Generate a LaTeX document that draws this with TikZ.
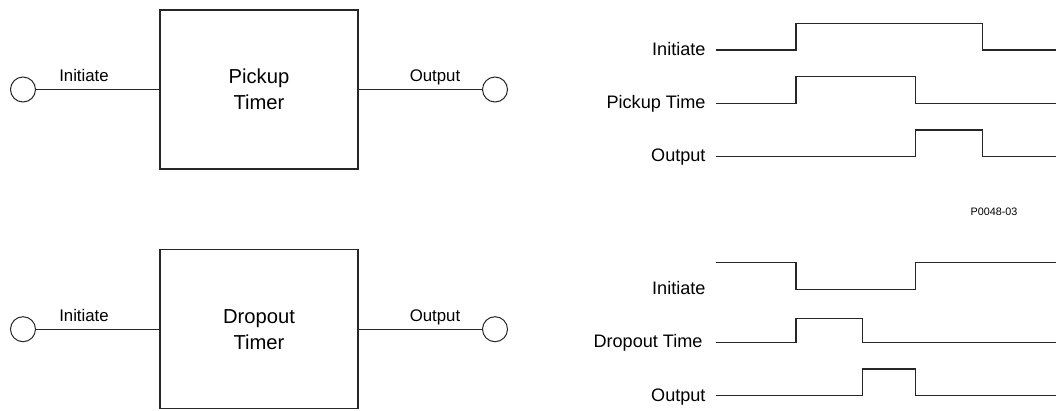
\documentclass[tikz,border=0pt]{standalone}
\usepackage{fontspec}
\setmainfont{Liberation Sans}
\begin{document}
\begin{tikzpicture}[x=1pt,y=-1pt,
			timer/.style={rectangle, draw=black!85, line width=1.4pt, minimum width=198pt, minimum height=159pt, align=center, font=\fontsize{20.2}{26}\selectfont, inner sep=0pt},
			term/.style={circle, draw=black!85, line width=1pt, minimum size=25pt, inner sep=0pt},
			wire/.style={draw=black!85, line width=1.4pt},
			wave/.style={draw=black!85, line width=1.4pt},
			lbl/.style={font=\fontsize{16.8}{20}\selectfont, anchor=base, inner sep=0pt},
			sig/.style={font=\fontsize{18.1}{22}\selectfont, anchor=base east, inner sep=0pt}]
			\useasboundingbox (0,0) rectangle (1056,410);
			%---------------- PICKUP TIMER ----------------
			\node[timer] (pickup) at (259,89.5) {Pickup\\Timer};
			\node[term] (inA) at (23,89.5) {};
			\node[term] (outA) at (495,89.5) {};
			\draw[wire] (inA) -- (pickup);
			\draw[wire] (pickup) -- (outA);
			\node[lbl] (inAlbl) at (84,81.7) {Initiate};
			\node[lbl] (outAlbl) at (435,81.7) {Output};
			%---------------- DROPOUT TIMER ----------------
			\node[timer] (dropout) at (259,329.2) {Dropout\\Timer};
			\node[term] (inB) at (23,329.2) {};
			\node[term] (outB) at (495,329.2) {};
			\draw[wire] (inB) -- (dropout);
			\draw[wire] (dropout) -- (outB);
			\node[lbl] (inBlbl) at (84,321.4) {Initiate};
			\node[lbl] (outBlbl) at (435,321.4) {Output};
			%---------------- PICKUP TIMING ----------------
			\node[sig] (initA) at (705.7,55.5) {Initiate};
			\node[sig] (timeA) at (705.7,108.8) {Pickup Time};
			\node[sig] (outputA) at (705.7,161.8) {Output};
			\draw[wave] (715.7,50) -- (796,50) -- (796,23.3) -- (982.3,23.3) -- (982.3,50) -- (1056,50);
			\draw[wave] (715.7,103.3) -- (796,103.3) -- (796,76.7) -- (915.7,76.7) -- (915.7,103.3) -- (1056,103.3);
			\draw[wave] (715.7,156.3) -- (915.7,156.3) -- (915.7,130) -- (982.3,130) -- (982.3,156.3) -- (1056,156.3);
			\node[font=\fontsize{10.8}{13}\selectfont, inner sep=0pt] (code) at (994,211.7) {P0048-03};
			%---------------- DROPOUT TIMING ----------------
			\node[sig] (initB) at (705.7,294.8) {Initiate};
			\node[sig] (timeB) at (702.7,347.8) {Dropout Time};
			\node[sig] (outputB) at (705.7,401.2) {Output};
			\draw[wave] (715.7,262.5) -- (796,262.5) -- (796,289.3) -- (915.7,289.3) -- (915.7,262.5) -- (1056,262.5);
			\draw[wave] (715.7,342.3) -- (796,342.3) -- (796,318.3) -- (862.7,318.3) -- (862.7,342.3) -- (1056,342.3);
			\draw[wave] (715.7,395.7) -- (862.7,395.7) -- (862.7,369) -- (915.7,369) -- (915.7,395.7) -- (1056,395.7);
		\end{tikzpicture}
\end{document}
